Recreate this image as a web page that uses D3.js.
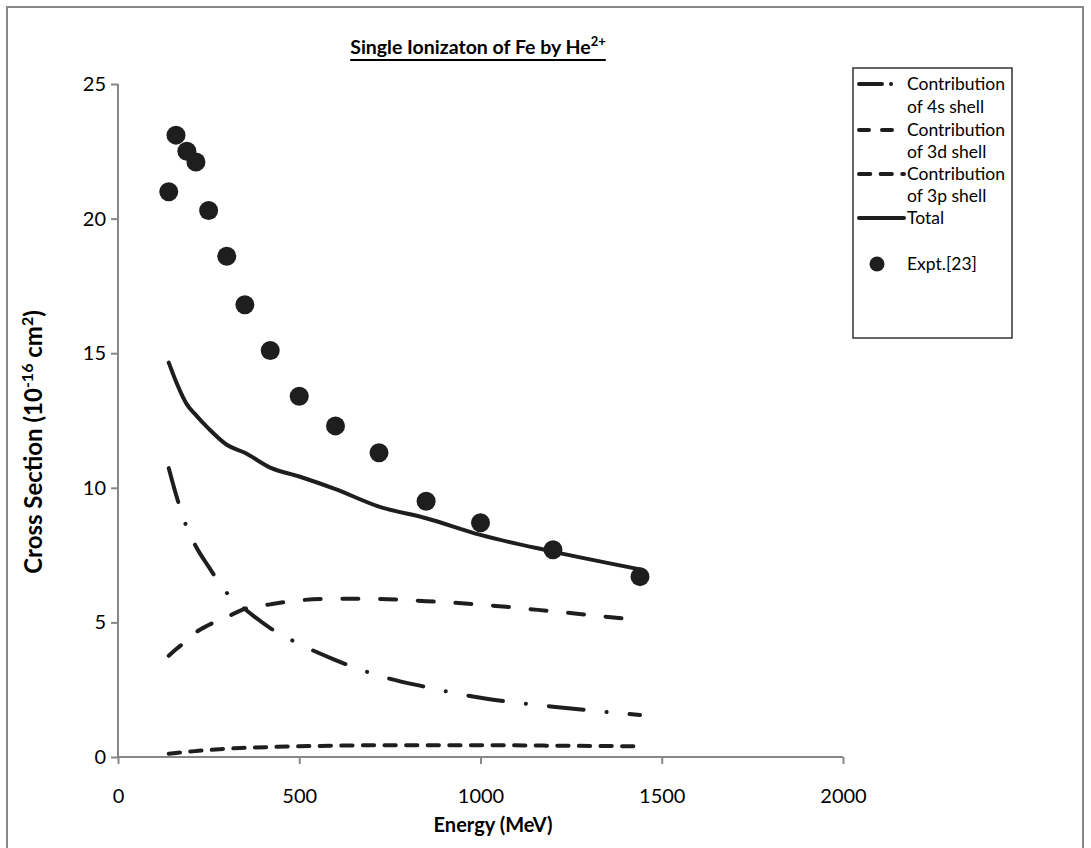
<!DOCTYPE html>
<html><head><meta charset="utf-8">
<script src="https://cdn.jsdelivr.net/npm/d3@7"></script>
<style>body{margin:0;background:#fff}svg{display:block}</style>
</head><body><svg id="c" width="1091" height="848"></svg>
<script>
// ---- data ----
const energy   = [140,160,190,215,250,300,350,420,500,600,720,850,1000,1200,1440];
const shell4s  = [10.73,9.75,8.52,7.82,7.07,6.1,5.5,4.79,4.2,3.6,3.02,2.6,2.2,1.87,1.56];
const shell3d  = [3.76,4.0,4.33,4.63,4.9,5.2,5.5,5.67,5.82,5.88,5.87,5.79,5.66,5.41,5.08];
const shell3p  = [0.12,0.15,0.19,0.22,0.26,0.31,0.34,0.37,0.40,0.42,0.44,0.44,0.44,0.42,0.40];
const total    = [14.65,13.95,13.1,12.7,12.2,11.6,11.3,10.75,10.42,9.95,9.3,8.87,8.25,7.63,6.97];
const exptEnergy = [140,160,190,215,250,300,350,420,500,600,720,850,1000,1200,1440];
const exptValue  = [21.0,23.1,22.5,22.1,20.3,18.6,16.8,15.1,13.4,12.3,11.3,9.5,8.7,7.7,6.7];
const xTicks = [0,500,1000,1500,2000];
const yTicks = [0,5,10,15,20,25];
const legendLabels = [["Contribution","of 4s shell"],["Contribution","of 3d shell"],["Contribution","of 3p shell"],["Total"],["Expt.[23]"]];

// ---- layout ----
const svg = d3.select("#c");
const FONT = "Lato, 'Open Sans', sans-serif";
const ink = "#1e1e1e", axisCol = "#878787";
const x = d3.scaleLinear().domain([0,2000]).range([118,843]);
const y = d3.scaleLinear().domain([0,25]).range([757,84]);

svg.append("rect").attr("x",7).attr("y",7).attr("width",1076).attr("height",850)
  .attr("fill","#fff").attr("stroke",axisCol).attr("stroke-width",2);

// axes
const gx = svg.append("g").attr("transform","translate(0,757)")
  .call(d3.axisBottom(x).tickValues(xTicks).tickSize(7).tickPadding(25).tickFormat(d3.format("d")));
const gy = svg.append("g").attr("transform","translate(118,0)")
  .call(d3.axisLeft(y).tickValues(yTicks).tickSize(7).tickPadding(5).tickFormat(d3.format("d")));
[gx,gy].forEach(g=>{
  g.select(".domain").attr("stroke",axisCol).attr("stroke-width",2);
  g.selectAll(".tick line").attr("stroke",axisCol).attr("stroke-width",2);
  g.selectAll(".tick text").attr("fill","#000").style("font-family",FONT).style("font-size","20px");
});
gy.select(".domain").attr("d","M0,757V84");
gx.select(".domain").attr("d","M118,0H843");

// lines
const seriesList = [
  {vals: shell4s, dash: "35 23 0.1 23"},
  {vals: shell3d, dash: "16 21.7"},
  {vals: shell3p, dash: "11.3 10.3"},
  {vals: total,   dash: null}
];
const line = d3.line().x(d=>x(d[0])).y(d=>y(d[1])).curve(d3.curveMonotoneX);
seriesList.forEach(s=>{
  svg.append("path").datum(energy.map((e,i)=>[e,s.vals[i]]))
    .attr("d",line).attr("fill","none").attr("stroke",ink).attr("stroke-width",4)
    .attr("stroke-linecap","round").attr("stroke-linejoin","round")
    .attr("stroke-dasharray",s.dash);
});
// experiment points
svg.append("g").selectAll("circle").data(exptEnergy.map((e,i)=>[e,exptValue[i]])).join("circle")
  .attr("cx",d=>x(d[0])).attr("cy",d=>y(d[1])).attr("r",9.5).attr("fill",ink);

// title
const title = svg.append("text").attr("x",478).attr("y",54).attr("text-anchor","middle")
  .style("font-family",FONT).style("font-weight","bold").style("font-size","19.5px").attr("fill","#000");
title.append("tspan").text("Single Ionizaton of Fe by He");
title.append("tspan").attr("dy",-8).style("font-size","13px").text("2+");
const tb = title.node().getBBox();
svg.append("line").attr("x1",tb.x).attr("x2",tb.x+tb.width).attr("y1",60).attr("y2",60)
  .attr("stroke","#000").attr("stroke-width",2);

// axis titles
svg.append("text").attr("x",493).attr("y",832).attr("text-anchor","middle")
  .style("font-family",FONT).style("font-weight","bold").style("font-size","20px").text("Energy (MeV)");
const yl = svg.append("text").attr("transform","translate(42,442) rotate(-90)").attr("text-anchor","middle")
  .style("font-family",FONT).style("font-weight","bold").style("font-size","24px");
yl.append("tspan").text("Cross Section (10");
yl.append("tspan").attr("dy",-9).style("font-size","16px").text("-16");
yl.append("tspan").attr("dy",9).text(" cm");
yl.append("tspan").attr("dy",-9).style("font-size","16px").text("2");
yl.append("tspan").attr("dy",9).text(")");

// legend
const lg = svg.append("g");
lg.append("rect").attr("x",853).attr("y",68).attr("width",159).attr("height",270)
  .attr("fill","#fff").attr("stroke","#333").attr("stroke-width",1.5);
const rowY = [84,130,174,218,264];
const row2Y = [107,152,196];
legendLabels.forEach((lines,i)=>{
  lines.forEach((t,j)=>{
    lg.append("text").attr("x",907).attr("y",(j===0?rowY[i]:row2Y[i])+6).text(t)
      .style("font-family",FONT).style("font-size","17.5px").attr("fill","#000");
  });
  if(i<4){
    lg.append("line").attr("x1",859).attr("x2",i===0?893:(i===1?895:904)).attr("y1",rowY[i]).attr("y2",rowY[i])
      .attr("stroke",ink).attr("stroke-width",4).attr("stroke-linecap","round")
      .attr("stroke-dasharray",i===0?"23 9 0.1 20":(i===1?"10 13":seriesList[i].dash));
  } else {
    lg.append("circle").attr("cx",877).attr("cy",rowY[i]).attr("r",7.5).attr("fill",ink);
  }
});
</script></body></html>
